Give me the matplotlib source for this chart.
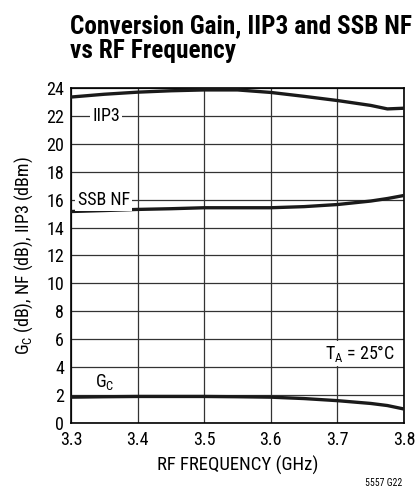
import matplotlib
matplotlib.use("Agg")
import matplotlib.pyplot as plt

plt.rcParams['font.family'] = ['Roboto Condensed', 'Archivo Narrow', 'DejaVu Sans']
plt.rcParams['mathtext.fontset'] = 'custom'
plt.rcParams['mathtext.rm'] = 'Roboto Condensed'

freq = [3.30, 3.35, 3.40, 3.45, 3.50, 3.55, 3.60, 3.65, 3.70, 3.75, 3.775, 3.80]
iip3 = [23.35, 23.55, 23.70, 23.80, 23.86, 23.86, 23.68, 23.40, 23.10, 22.75, 22.50, 22.55]
ssb_nf = [15.15, 15.22, 15.30, 15.35, 15.42, 15.42, 15.42, 15.50, 15.65, 15.90, 16.08, 16.30]
gain = [1.85, 1.88, 1.90, 1.90, 1.90, 1.88, 1.85, 1.75, 1.60, 1.40, 1.25, 1.00]

xticks = [3.3, 3.4, 3.5, 3.6, 3.7, 3.8]
yticks = list(range(0, 25, 2))
fs = 13

fig = plt.figure(figsize=(4.17, 5.01), dpi=100)
ax = fig.add_axes([0.170, 0.1557, 0.799, 0.6687])

for y in iip3, ssb_nf, gain:
    ax.plot(freq, y, color='#1a1a1a', lw=2.4, solid_capstyle='butt', zorder=3)

ax.set_xlim(3.3, 3.8)
ax.set_ylim(0, 24)
ax.set_xticks(xticks)
ax.set_yticks(yticks)
ax.set_xticklabels([f'{v:.1f}' for v in xticks], fontsize=fs)
ax.set_yticklabels([str(v) for v in yticks], fontsize=fs)
ax.tick_params(axis='x', length=0, pad=6)
ax.tick_params(axis='y', length=0, pad=5)
ax.grid(True, color='#333333', lw=0.9)
for s in ax.spines.values():
    s.set_linewidth(1.2)

box = dict(facecolor='white', edgecolor='none', pad=1.5)
ax.text(3.332, 22, 'IIP3', fontsize=fs, va='center', ha='left', bbox=box, zorder=4)
ax.text(3.31, 16, 'SSB NF', fontsize=fs, va='center', ha='left', bbox=box, zorder=4)
ax.text(3.336, 2.95, r'G$_\mathregular{C}$', fontsize=fs, va='center', ha='left')
ax.text(3.787, 5.0, r'T$_\mathregular{A}$ = 25°C', fontsize=fs, va='center', ha='right',
        bbox=box, zorder=4)

ax.set_xlabel('RF FREQUENCY (GHz)', fontsize=13.5, labelpad=5)
ax.set_ylabel(r'G$_\mathregular{C}$ (dB), NF (dB), IIP3 (dBm)', fontsize=13, labelpad=8)

fig.text(0.168, 0.934, 'Conversion Gain, IIP3 and SSB NF', fontsize=18.2,
         fontweight='bold', ha='left', va='baseline')
fig.text(0.168, 0.884, 'vs RF Frequency', fontsize=18.2,
         fontweight='bold', ha='left', va='baseline')
fig.text(0.965, 0.035, '5557 G22', fontsize=7, ha='right', va='center')

fig.savefig('out.png', dpi=100)
